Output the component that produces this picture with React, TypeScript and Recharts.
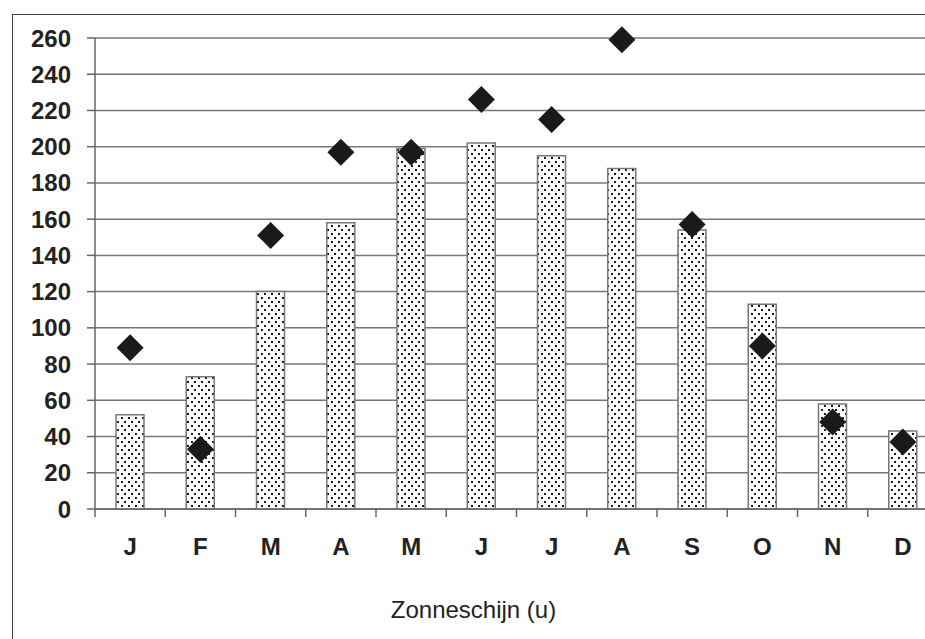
import React from 'react'
import { ComposedChart, Bar, Line, XAxis, YAxis, CartesianGrid } from 'recharts'

// Monthly sunshine hours (bars) and a second monthly series (diamonds)
const months = ['J', 'F', 'M', 'A', 'M', 'J', 'J', 'A', 'S', 'O', 'N', 'D']
const barValues = [52, 73, 120, 158, 199, 202, 195, 188, 154, 113, 58, 43]
const diamondValues = [89, 33, 151, 197, 197, 226, 215, 259, 157, 90, 48, 37]
const yTicks = [0, 20, 40, 60, 80, 100, 120, 140, 160, 180, 200, 220, 240, 260]

const data = months.map((m, i) => ({
  month: m,
  bar: barValues[i],
  diamond: diamondValues[i],
}))

const CHART_W = 940
const CHART_H = 623
const MARGIN = { top: 30, right: 10, bottom: 0, left: 0 }
const Y_AXIS_W = 87
const PLOT_W = CHART_W - MARGIN.left - MARGIN.right - Y_AXIS_W
const BAND = PLOT_W / months.length

const INK = '#222'
const AXIS = '#666'
const FONT = '"Liberation Sans", Arial, sans-serif'

/** Month label at band centre, tick marks at band edges */
function MonthTick(props: { x?: number; y?: number; payload?: { value: string }; index?: number }) {
  const { x = 0, y = 0, payload, index = 0 } = props
  const left = x - BAND / 2
  return (
    <g>
      <line x1={left} y1={y} x2={left} y2={y + 8} stroke={AXIS} strokeWidth={1.5} />
      {index === months.length - 1 && (
        <line x1={x + BAND / 2} y1={y} x2={x + BAND / 2} y2={y + 8} stroke={AXIS} strokeWidth={1.5} />
      )}
      <text x={x} y={y + 46} textAnchor="middle" fill={INK} fontSize={24} fontWeight="bold" fontFamily={FONT}>
        {payload?.value}
      </text>
    </g>
  )
}

function Diamond(props: { cx?: number; cy?: number }) {
  const { cx = 0, cy = 0 } = props
  const h = 13.5
  return (
    <polygon
      points={`${cx},${cy - h} ${cx + h},${cy} ${cx},${cy + h} ${cx - h},${cy}`}
      fill="#1a1a1a"
    />
  )
}

export default function App() {
  return (
    <div
      style={{
        position: 'fixed',
        left: 8,
        top: 8,
        width: CHART_W,
        height: 640,
        overflow: 'hidden',
        background: '#fff',
      }}
    >
      <div
        style={{
          position: 'absolute',
          left: 4,
          top: 6,
          width: 1000,
          height: 700,
          borderLeft: '1.5px solid #444',
          borderTop: '1.5px solid #444',
        }}
      />
      <div style={{ position: 'absolute', left: 0, top: 0 }}>
        <ComposedChart width={CHART_W} height={CHART_H} data={data} margin={MARGIN}>
          <defs>
            <pattern id="dots" width="7" height="8" patternUnits="userSpaceOnUse">
              <rect width="7" height="8" fill="#fff" />
              <rect x="1" y="1" width="2" height="2" fill="#1a1a1a" />
              <rect x="4" y="5" width="2" height="2" fill="#1a1a1a" />
            </pattern>
          </defs>
          <CartesianGrid vertical={false} stroke="#777" strokeWidth={1.5} />
          <XAxis
            dataKey="month"
            height={122}
            axisLine={{ stroke: AXIS, strokeWidth: 1.5 }}
            tickLine={false}
            tickSize={0}
            tickMargin={0}
            interval={0}
            tick={<MonthTick />}
          />
          <YAxis
            width={Y_AXIS_W}
            domain={[0, 260]}
            ticks={yTicks}
            interval={0}
            axisLine={{ stroke: AXIS, strokeWidth: 1.5 }}
            tickLine={{ stroke: AXIS, strokeWidth: 1.5 }}
            tickSize={8}
            tickMargin={16}
            tick={{ fill: INK, fontSize: 24, fontWeight: 'bold', fontFamily: FONT }}
          />
          <Bar
            dataKey="bar"
            barSize={28}
            fill="url(#dots)"
            stroke="#777"
            strokeWidth={1.5}
            isAnimationActive={false}
          />
          <Line
            dataKey="diamond"
            stroke="none"
            dot={<Diamond />}
            activeDot={false}
            isAnimationActive={false}
          />
        </ComposedChart>
      </div>
      <div
        style={{
          position: 'absolute',
          left: 0,
          top: 588,
          width: 931,
          textAlign: 'center',
          fontFamily: FONT,
          fontSize: 24,
          lineHeight: '28px',
          color: INK,
        }}
      >
        Zonneschijn (u)
      </div>
    </div>
  )
}
